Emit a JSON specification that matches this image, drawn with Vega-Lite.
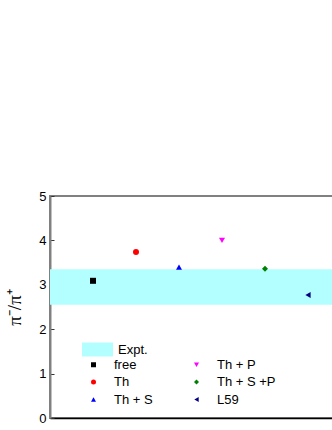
{
  "$schema": "https://vega.github.io/schema/vega-lite/v6.json",
  "width": 301,
  "height": 222,
  "autosize": "none",
  "padding": {"left": 50, "top": 196, "right": 0, "bottom": 12},
  "config": {
    "view": {"stroke": "#808080", "strokeWidth": 2},
    "font": "Liberation Sans"
  },
  "layer": [
    {
      "data": {"values": [{"label": "Expt.", "lo": 2.55, "hi": 3.35}]},
      "mark": {"type": "rect"},
      "encoding": {
        "y": {
          "field": "lo",
          "type": "quantitative",
          "scale": {"domain": [0, 5], "nice": false, "zero": false},
          "axis": {
            "values": [0, 0.5, 1, 1.5, 2, 2.5, 3, 3.5, 4, 4.5, 5],
            "labelExpr": "datum.value % 1 === 0 ? datum.label : ''",
            "grid": false,
            "domainColor": "#808080",
            "domainWidth": 2,
            "tickColor": "#333333",
            "tickWidth": 1,
            "tickSize": {"condition": {"test": "datum.value % 1 === 0", "value": -4}, "value": -2},
            "labelFontSize": 13,
            "labelColor": "#000000",
            "labelPadding": 8,
            "title": "π⁻/π⁺",
            "titleFont": "Liberation Serif",
            "titleFontSize": 19,
            "titleFontWeight": "normal",
            "titleColor": "#000000",
            "titlePadding": 14
          }
        },
        "y2": {"field": "hi"},
        "fill": {
          "field": "label",
          "type": "nominal",
          "scale": {"range": ["#b3ffff"]},
          "legend": {
            "orient": "none",
            "legendX": 32,
            "legendY": 138,
            "title": null,
            "padding": 0,
            "symbolType": "M-1,-0.45H1V0.45H-1Z",
            "symbolSize": 961,
            "symbolStrokeWidth": 0,
            "labelFontSize": 13,
            "labelColor": "#000000",
            "labelOffset": 5
          }
        }
      }
    },
    {
      "data": {
        "values": [
          {"series": "free", "x": 1, "ratio": 3.09},
          {"series": "Th", "x": 2, "ratio": 3.74},
          {"series": "Th + S", "x": 3, "ratio": 3.4},
          {"series": "Th + P", "x": 4, "ratio": 4.0},
          {"series": "Th + S +P", "x": 5, "ratio": 3.36},
          {"series": " L59", "x": 6, "ratio": 2.77}
        ]
      },
      "mark": {"type": "point", "filled": true, "size": 36, "opacity": 1},
      "encoding": {
        "x": {
          "field": "x",
          "type": "quantitative",
          "scale": {"domain": [0, 7], "nice": false},
          "axis": {
            "labels": false,
            "ticks": false,
            "grid": false,
            "title": null,
            "domainColor": "#000000",
            "domainWidth": 1.5
          }
        },
        "y": {"field": "ratio", "type": "quantitative"},
        "color": {
          "field": "series",
          "type": "nominal",
          "scale": {
            "domain": ["free", "Th", "Th + S", "Th + P", "Th + S +P", " L59"],
            "range": ["#000000", "#ff0000", "#0000ff", "#ff00ff", "#008000", "#000080"]
          },
          "legend": {
            "orient": "none",
            "legendX": 37,
            "legendY": 162,
            "title": null,
            "padding": 0,
            "columns": 2,
            "columnPadding": 37,
            "rowPadding": 3.5,
            "symbolSize": 25,
            "symbolStrokeWidth": 0,
            "labelFontSize": 13,
            "labelColor": "#000000",
            "labelOffset": 14
          }
        },
        "shape": {
          "field": "series",
          "type": "nominal",
          "scale": {
            "domain": ["free", "Th", "Th + S", "Th + P", "Th + S +P", " L59"],
            "range": ["square", "circle", "triangle-up", "triangle-down", "diamond", "triangle-left"]
          },
          "legend": {
            "orient": "none",
            "legendX": 37,
            "legendY": 162,
            "title": null,
            "padding": 0,
            "columns": 2,
            "columnPadding": 37,
            "rowPadding": 3.5,
            "symbolSize": 25,
            "symbolStrokeWidth": 0,
            "labelFontSize": 13,
            "labelColor": "#000000",
            "labelOffset": 14
          }
        }
      }
    }
  ]
}
